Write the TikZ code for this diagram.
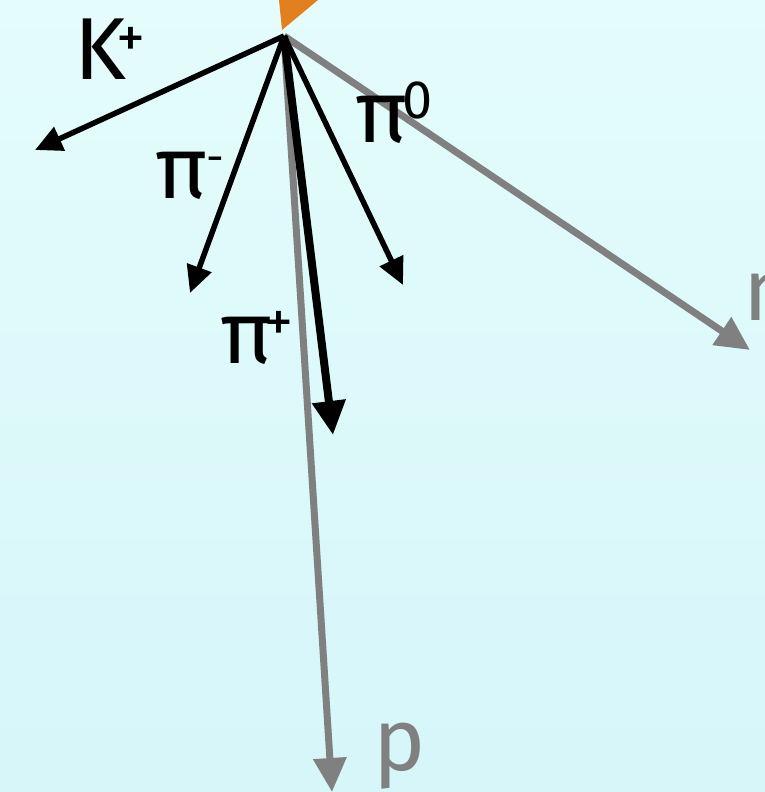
\documentclass[tikz,border=0pt]{standalone}
\usepackage{fontspec}
\setmainfont{Fira Sans}
\usetikzlibrary{arrows.meta}
\definecolor{bgtop}{RGB}{228,252,251}
\definecolor{bgbot}{RGB}{214,246,250}
\definecolor{trackgray}{RGB}{128,128,128}
\definecolor{beamorange}{RGB}{226,128,32}
\tikzset{
  blk/.style={draw=black, line width=5.5pt, -{Triangle[length=27pt,width=25pt]}},
  blkthick/.style={draw=black, line width=8pt, -{Triangle[length=34pt,width=32pt]}},
  gry/.style={draw=trackgray, line width=7pt, -{Triangle[length=34pt,width=32pt]}},
  lbl/.style={inner sep=0pt, anchor=base west, font=\fontsize{88}{88}\selectfont},
  glbl/.style={lbl, text=trackgray},
  sup/.style={inner sep=0pt, anchor=base west, font=\fontsize{58}{58}\selectfont}
}
\begin{document}
\begin{tikzpicture}[x=1pt,y=-1pt]
\useasboundingbox (0,0) rectangle (765,792);
\shade[top color=bgtop, bottom color=bgbot] (0,0) rectangle (765,792);
\fill[beamorange] (279,0) -- (318,0) -- (282,30) -- cycle;
\coordinate (v) at (284,36);
\coordinate (kend) at (35,150);
\coordinate (pimend) at (190,293);
\coordinate (pizend) at (403,285);
\coordinate (pipend) at (333,435);
\coordinate (nend) at (750,350);
\coordinate (pend) at (332,792);
\draw[gry] (v) -- (pend);
\draw[gry] (v) -- (nend);
\draw[blk] (v) -- (kend);
\draw[blk] (v) -- (pimend);
\draw[blk] (v) -- (pizend);
\draw[blkthick] (v) -- (pipend);
\node[lbl] (klbl) at (74,80) {K};
\node[sup] (ksup) at (116,57) {+};
\node[lbl] (pimlbl) at (155,198) {π};
\node[sup, font=\fontsize{44}{44}\selectfont] (pimsup) at (206,172) {-};
\node[lbl] (pizlbl) at (355,142) {π};
\node[sup, font=\fontsize{54}{54}\selectfont] (pizsup) at (402,118) {0};
\node[lbl] (piplbl) at (220,363) {π};
\node[sup] (pipsup) at (264,341) {+};
\node[glbl] (nlbl) at (743,320) {n};
\node[glbl] (plbl) at (373,770) {p};
\end{tikzpicture}
\end{document}
